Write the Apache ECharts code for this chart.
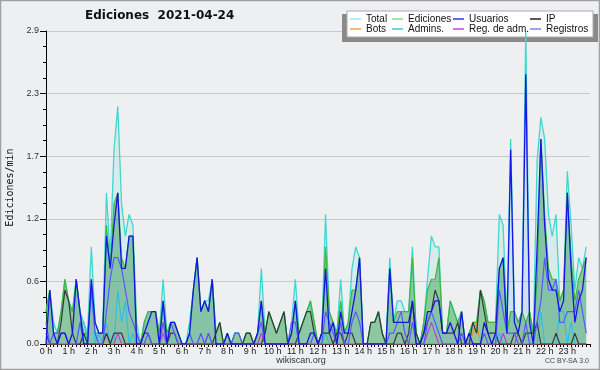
<!DOCTYPE html>
<html>
<head>
<meta charset="utf-8">
<script src="https://cdn.jsdelivr.net/npm/echarts@6/dist/echarts.min.js"></script>
<style>
  html, body { margin: 0; padding: 0; background: #eeeff1; }
  #chart { width: 600px; height: 370px; }
</style>
</head>
<body>
<div id="chart"></div>
<script>
// edits per minute, one value per 10 min (144 bins)
var hourLabels = ['0 h','1 h','2 h','3 h','4 h','5 h','6 h','7 h','8 h','9 h','10 h','11 h',
  '12 h','13 h','14 h','15 h','16 h','17 h','18 h','19 h','20 h','21 h','22 h','23 h'];

var total = [
  0.3,0.5,0.2,0.1,0.3,0.6,0.4,0.3,0.6,0.3,0.2,0.1,
  0.9,0.2,0.1,0.1,1.4,0.8,1.8,2.2,1.3,1.0,1.2,1.1,
  0.2,0.0,0.2,0.3,0.3,0.3,0.1,0.6,0.1,0.2,0.2,0.1,
  0.0,0.0,0.2,0.5,0.8,0.3,0.4,0.4,0.6,0.1,0.2,0.0,
  0.1,0.0,0.1,0.1,0.0,0.1,0.1,0.0,0.1,0.7,0.1,0.3,
  0.2,0.1,0.2,0.3,0.0,0.2,0.6,0.1,0.2,0.3,0.4,0.2,
  0.0,0.1,1.2,0.3,0.2,0.1,0.6,0.1,0.2,0.7,0.9,0.8,
  0.0,0.0,0.2,0.2,0.3,0.1,0.0,0.8,0.2,0.4,0.4,0.3,
  0.3,0.9,0.1,0.0,0.2,0.6,1.0,0.9,0.9,0.1,0.1,0.4,
  0.3,0.2,0.3,0.0,0.1,0.2,0.2,0.5,0.4,0.2,0.2,0.2,
  1.2,1.1,0.2,1.9,0.3,0.2,0.3,2.9,0.3,0.1,1.7,2.1,
  1.9,1.2,1.0,1.2,0.4,0.5,1.6,1.1,0.5,0.8,0.7,0.9
];
var ediciones = [
  0.3,0.5,0.1,0.1,0.3,0.6,0.4,0.3,0.6,0.3,0.1,0.1,
  0.5,0.1,0.1,0.1,1.1,0.7,1.3,1.4,0.8,0.7,1.0,1.0,
  0.1,0.0,0.2,0.3,0.3,0.3,0.1,0.4,0.1,0.2,0.2,0.1,
  0.0,0.0,0.1,0.5,0.8,0.3,0.4,0.3,0.6,0.1,0.2,0.0,
  0.1,0.0,0.1,0.1,0.0,0.1,0.1,0.0,0.1,0.4,0.1,0.3,
  0.2,0.1,0.2,0.3,0.0,0.1,0.4,0.1,0.2,0.3,0.4,0.2,
  0.0,0.1,0.9,0.3,0.2,0.1,0.4,0.1,0.2,0.5,0.5,0.8,
  0.0,0.0,0.2,0.2,0.3,0.1,0.0,0.7,0.2,0.3,0.3,0.3,
  0.3,0.8,0.1,0.0,0.2,0.5,0.6,0.6,0.8,0.1,0.1,0.4,
  0.3,0.2,0.3,0.0,0.1,0.2,0.2,0.5,0.4,0.2,0.2,0.2,
  0.7,0.8,0.1,0.3,0.3,0.2,0.3,0.2,0.3,0.1,0.6,1.9,
  1.2,0.7,0.6,0.6,0.4,0.5,1.4,0.8,0.4,0.6,0.7,0.8
];
var usuarios = [
  0.0,0.5,0.1,0.0,0.1,0.1,0.0,0.1,0.6,0.3,0.0,0.0,
  0.6,0.2,0.1,0.1,1.0,0.7,1.1,1.4,0.7,0.7,1.0,1.0,
  0.0,0.0,0.1,0.2,0.3,0.3,0.0,0.4,0.0,0.2,0.2,0.1,
  0.0,0.0,0.1,0.5,0.8,0.3,0.4,0.3,0.6,0.0,0.0,0.0,
  0.1,0.0,0.0,0.0,0.0,0.0,0.0,0.0,0.1,0.4,0.0,0.0,
  0.0,0.0,0.0,0.0,0.0,0.1,0.4,0.0,0.0,0.0,0.1,0.1,
  0.0,0.1,0.7,0.1,0.2,0.0,0.3,0.1,0.1,0.3,0.5,0.8,
  0.0,0.0,0.0,0.0,0.0,0.0,0.0,0.7,0.2,0.2,0.2,0.2,
  0.2,0.4,0.0,0.0,0.1,0.3,0.3,0.4,0.4,0.1,0.1,0.2,
  0.1,0.0,0.3,0.0,0.1,0.0,0.0,0.0,0.2,0.1,0.0,0.1,
  0.7,0.8,0.1,1.8,0.2,0.1,0.3,2.5,0.2,0.0,0.9,1.9,
  1.1,0.6,0.5,0.5,0.3,0.4,1.4,0.7,0.2,0.4,0.5,0.8
];
var ip = [
  0.1,0.0,0.0,0.0,0.2,0.5,0.4,0.1,0.0,0.0,0.1,0.0,
  0.0,0.0,0.0,0.0,0.1,0.0,0.1,0.1,0.1,0.0,0.0,0.0,
  0.0,0.0,0.1,0.1,0.0,0.0,0.0,0.0,0.0,0.1,0.1,0.0,
  0.0,0.0,0.0,0.0,0.0,0.0,0.0,0.0,0.0,0.1,0.2,0.0,
  0.0,0.0,0.0,0.0,0.0,0.1,0.1,0.0,0.0,0.0,0.1,0.3,
  0.2,0.1,0.2,0.3,0.0,0.0,0.0,0.1,0.2,0.3,0.3,0.1,
  0.0,0.1,0.1,0.1,0.0,0.1,0.1,0.0,0.1,0.1,0.0,0.0,
  0.0,0.0,0.2,0.2,0.3,0.1,0.0,0.0,0.0,0.1,0.1,0.0,
  0.1,0.4,0.1,0.0,0.1,0.2,0.3,0.5,0.4,0.1,0.1,0.1,
  0.1,0.2,0.0,0.0,0.0,0.2,0.1,0.5,0.3,0.1,0.1,0.1,
  0.0,0.0,0.0,0.0,0.1,0.1,0.0,0.1,0.1,0.1,0.2,0.0,
  0.0,0.0,0.0,0.1,0.0,0.0,0.0,0.0,0.1,0.0,0.0,0.0
];
var registros = [
  0.2,0.0,0.1,0.1,0.1,0.1,0.0,0.0,0.0,0.2,0.0,0.0,
  0.5,0.1,0.0,0.0,0.3,0.6,0.8,0.8,0.7,0.5,0.3,0.2,
  0.1,0.0,0.0,0.1,0.0,0.0,0.0,0.2,0.0,0.2,0.1,0.0,
  0.0,0.0,0.1,0.0,0.0,0.1,0.0,0.1,0.0,0.0,0.0,0.0,
  0.0,0.0,0.1,0.1,0.0,0.0,0.0,0.0,0.1,0.2,0.0,0.0,
  0.0,0.0,0.0,0.0,0.0,0.2,0.2,0.0,0.0,0.0,0.0,0.1,
  0.0,0.0,0.3,0.2,0.1,0.0,0.2,0.0,0.0,0.2,0.3,0.2,
  0.0,0.0,0.0,0.0,0.0,0.0,0.0,0.1,0.1,0.2,0.3,0.1,
  0.0,0.2,0.0,0.0,0.0,0.2,0.3,0.2,0.1,0.0,0.0,0.0,
  0.0,0.0,0.1,0.0,0.0,0.0,0.0,0.0,0.1,0.0,0.0,0.0,
  0.5,0.3,0.1,0.1,0.1,0.0,0.0,0.2,0.0,0.0,0.2,0.4,
  0.8,0.5,0.5,0.6,0.2,0.2,0.3,0.3,0.3,0.5,0.3,0.1
];
var admins = [
  0.0,0.0,0.0,0.0,0.0,0.0,0.0,0.0,0.0,0.2,0.2,0.0,
  0.6,0.0,0.1,0.0,0.2,0.0,0.0,0.5,0.2,0.4,0.0,0.1,
  0.0,0.0,0.0,0.0,0.0,0.0,0.0,0.0,0.0,0.0,0.0,0.0,
  0.0,0.0,0.0,0.0,0.0,0.0,0.0,0.0,0.0,0.0,0.0,0.0,
  0.0,0.0,0.0,0.0,0.0,0.0,0.0,0.0,0.0,0.0,0.0,0.0,
  0.0,0.0,0.0,0.0,0.0,0.0,0.0,0.0,0.0,0.0,0.0,0.0,
  0.0,0.0,0.1,0.0,0.0,0.0,0.0,0.0,0.0,0.0,0.0,0.0,
  0.0,0.0,0.0,0.0,0.0,0.0,0.0,0.0,0.0,0.0,0.0,0.0,
  0.0,0.0,0.0,0.0,0.0,0.0,0.0,0.0,0.0,0.0,0.0,0.0,
  0.0,0.0,0.0,0.0,0.0,0.0,0.0,0.0,0.0,0.0,0.0,0.0,
  0.1,0.0,0.0,0.0,0.0,0.0,0.0,0.0,0.0,0.0,0.0,0.3,
  0.0,0.0,0.0,0.0,0.3,0.3,0.0,0.2,0.0,0.0,0.0,0.0
];
var regAdm = [
  0,0,0,0,0,0,0,0,0,0,0,0,
  0,0,0,0,0.1,0,0,0.1,0,0,0,0,
  0,0,0,0,0,0,0,0.1,0,0,0,0,
  0,0,0,0,0,0,0,0.1,0,0,0,0,
  0,0,0,0,0,0,0,0,0,0.1,0,0,
  0,0,0,0,0,0,0,0,0,0,0,0,
  0,0,0,0,0,0,0,0,0,0,0,0,
  0,0,0,0,0,0,0,0,0,0,0,0,
  0,0,0,0,0,0.1,0.2,0.1,0,0,0,0,
  0,0,0,0,0,0,0,0,0,0,0,0,
  0,0.1,0,0,0,0.1,0,0,0,0,0,0,
  0,0,0,0,0,0,0,0,0,0,0,0
];
var bots = [
  0,0,0,0,0,0,0,0,0,0,0,0,
  0,0,0,0,0,0,0,0,0,0,0,0,
  0,0,0,0,0,0,0,0,0,0,0,0,
  0,0,0,0,0,0,0,0,0,0,0,0,
  0,0,0,0,0,0,0,0,0,0,0,0,
  0,0,0,0,0,0,0,0,0,0,0,0,
  0,0,0,0,0,0,0,0,0,0,0,0,
  0,0,0,0,0,0,0,0,0,0,0,0,
  0,0,0,0,0,0,0,0,0,0,0,0,
  0,0,0,0,0,0.1,0.2,0,0,0,0,0,
  0,0,0,0,0,0,0,0,0,0,0,0,
  0,0,0,0,0,0,0,0,0,0,0,0
];

function pts(arr) {
  return arr.map(function (v, i) { return [i, v]; });
}

var chart = echarts.init(document.getElementById('chart'));

function lineSeries(name, arr, color, width, area, z) {
  var s = {
    name: name,
    type: 'line',
    data: pts(arr),
    showSymbol: false,
    symbol: 'none',
    z: z,
    lineStyle: { color: color, width: width },
    itemStyle: { color: color }
  };
  if (area) s.areaStyle = { color: area, opacity: 1 };
  return s;
}

var legendFont = { fontFamily: 'Liberation Sans', fontSize: 10, color: '#111', lineHeight: 10 };
function legendCol(left, items) {
  return {
    orient: 'vertical', left: left, top: 14, padding: 0, itemGap: 0,
    itemWidth: 11, itemHeight: 1.5, icon: 'rect', z: 10,
    textStyle: legendFont, selectedMode: false,
    data: items
  };
}

var option = {
  animation: false,
  backgroundColor: '#eeeff1',
  title: {
    text: 'Ediciones  2021-04-24',
    left: 85, top: 10, padding: 0,
    textStyle: { fontFamily: 'DejaVu Sans', fontWeight: 'bold', fontSize: 12, color: '#111' }
  },
  legend: [
    legendCol(350, [{ name: 'Total', itemStyle: { color: '#a6e6e6' } }, { name: 'Bots', itemStyle: { color: '#ffa040' } }]),
    legendCol(392, [{ name: 'Ediciones', itemStyle: { color: '#8fd68f' } }, { name: 'Admins.', itemStyle: { color: '#40c8dc' } }]),
    legendCol(453, [{ name: 'Usuarios', itemStyle: { color: '#3838d8' } }, { name: 'Reg. de adm.', itemStyle: { color: '#d040e0' } }]),
    legendCol(530, [{ name: 'IP', itemStyle: { color: '#222' } }, { name: 'Registros', itemStyle: { color: '#8080f0' } }])
  ],
  graphic: [
    { type: 'rect', z: 1, shape: { x: 0.5, y: 0.5, width: 599, height: 369 }, style: { fill: 'none', stroke: '#a0a0a0', lineWidth: 1.5 } },
    { type: 'rect', z: 1, shape: { x: 342, y: 14, width: 256, height: 28 }, style: { fill: '#8a8a8a' } },
    { type: 'rect', z: 1, shape: { x: 347, y: 11, width: 246, height: 26 }, style: { fill: '#ffffff', stroke: '#aaaaaa', lineWidth: 1 } },
    { type: 'text', z: 5, style: { x: 301, y: 361, text: 'wikiscan.org', align: 'center', verticalAlign: 'middle', font: '9px "Liberation Sans"', fill: '#333' } },
    { type: 'text', z: 5, style: { x: 589, y: 361, text: 'CC BY-SA 3.0', align: 'right', verticalAlign: 'middle', font: '7px "Liberation Sans"', fill: '#444' } }
  ],
  grid: { left: 46, right: 10, top: 31, bottom: 26, outerBoundsMode: 'none', containLabel: false },
  xAxis: {
    type: 'value', min: 0, max: 144, interval: 6,
    axisLine: { show: true, lineStyle: { color: '#000', width: 1 } },
    axisTick: { show: true, length: 3, lineStyle: { color: '#000' } },
    minorTick: { show: true, splitNumber: 6, length: 3, lineStyle: { color: '#000' } },
    splitLine: { show: false },
    axisLabel: {
      margin: 3, fontSize: 9, fontFamily: 'Liberation Sans', color: '#222',
      formatter: function (v) { return hourLabels[v / 6] || ''; }
    }
  },
  yAxis: {
    type: 'value', min: 0, max: 2.9, interval: 0.58,
    name: 'Ediciones/min', nameLocation: 'middle', nameGap: 30, nameRotate: 90,
    nameTextStyle: { fontFamily: 'DejaVu Sans Mono', fontSize: 10, color: '#111' },
    axisLine: { show: true, lineStyle: { color: '#000', width: 1 } },
    axisTick: { show: true, length: 6, lineStyle: { color: '#000' } },
    minorTick: { show: true, splitNumber: 4, length: 3, lineStyle: { color: '#000' } },
    splitLine: { show: true, lineStyle: { color: '#c8c8c8', width: 1 } },
    axisLabel: {
      margin: 7, fontSize: 9, fontFamily: 'Liberation Sans', color: '#333',
      formatter: function (v) { return v.toFixed(1); }
    }
  },
  series: [
    lineSeries('Total', total, '#3ed8cf', 1.3, 'rgba(60,210,200,0.13)', 2),
    lineSeries('Ediciones', ediciones, '#3cb83c', 1.2, 'rgba(46,158,67,0.44)', 3),
    lineSeries('Admins.', admins, '#2ec6de', 1.1, null, 4),
    lineSeries('Reg. de adm.', regAdm, '#cc33dd', 1.1, null, 4),
    lineSeries('Bots', bots, '#ff8c1a', 1.1, null, 4),
    lineSeries('IP', ip, '#383838', 1.2, null, 5),
    lineSeries('Registros', registros, '#5a5aff', 1.2, null, 5),
    lineSeries('Usuarios', usuarios, '#1515e6', 1.3, 'rgba(50,80,230,0.06)', 6)
  ]
};

chart.setOption(option);
</script>
</body>
</html>
